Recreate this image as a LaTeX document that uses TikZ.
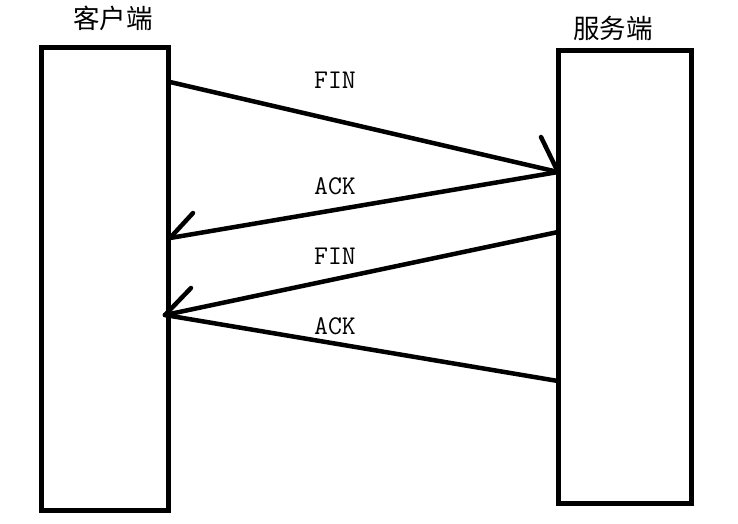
\documentclass[tikz,border=0pt]{standalone}
\usepackage{fontspec}
\newfontfamily\cjk{Noto Sans CJK SC}
\begin{document}
\begin{tikzpicture}[x=1pt,y=-1pt,
  box/.style={draw=black,line width=5pt,fill=none},
  msg/.style={draw=black,line width=4.5pt,line cap=round},
  barb/.style={draw=black,line width=4.5pt,line cap=round},
  lab/.style={font=\ttfamily\fontsize{27}{30}\selectfont,inner sep=0pt},
  ttl/.style={font=\cjk\fontsize{26.5}{30}\selectfont,inner sep=0pt}]
\useasboundingbox (0,0) rectangle (738,523);
\fill[white] (0,0) rectangle (738,523);
% boxes
\draw[box] (41,47) rectangle (168,510);
\draw[box] (558,50) rectangle (691,503);
\node[ttl] (ct) at (113,18) {客户端};
\node[ttl] (st) at (613,28) {服务端};
% end points
\coordinate (c1) at (170,82);
\coordinate (s1) at (558,172);
\coordinate (c2) at (170,238);
\coordinate (s2) at (558,232);
\coordinate (c3) at (165,315);
\coordinate (s3) at (558,381);
% messages
\draw[msg] (c1) -- (s1);
\draw[barb] (s1) -- ++(-17,-35);
\draw[msg] (s1) -- (c2);
\draw[barb] (c2) -- ++(23,-25);
\draw[msg] (s2) -- (c3);
\draw[barb] (c3) -- ++(26,-27);
\draw[msg] (c3) -- (s3);
% labels
\node[lab] (l1) at (335,80) {FIN};
\node[lab] (l2) at (335,186) {ACK};
\node[lab] (l3) at (335,256) {FIN};
\node[lab] (l4) at (335,326) {ACK};
\end{tikzpicture}
\end{document}
